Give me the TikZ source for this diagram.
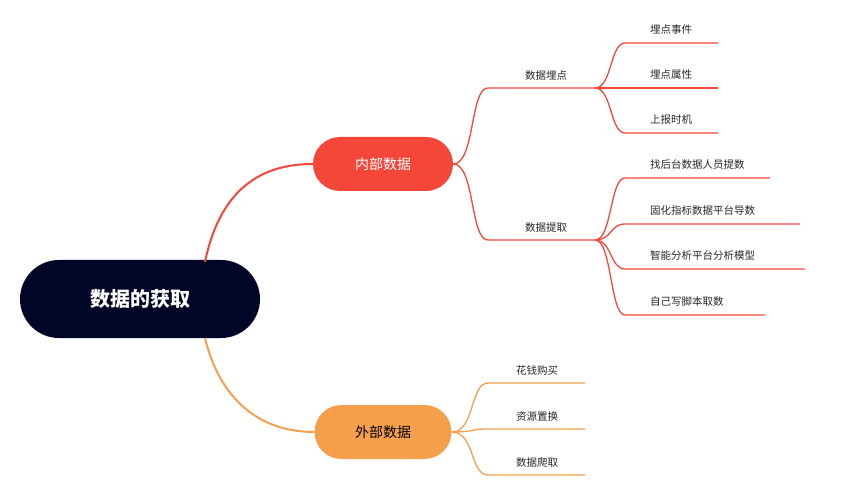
\documentclass[tikz,border=0pt]{standalone}
\usepackage{fontspec}
\setmainfont{Noto Sans CJK SC}
\begin{document}
\begin{tikzpicture}[x=1pt,y=-1pt,
  red/.style={draw=mred,line width=1.3pt},
  org/.style={draw=morg,line width=1.3pt},
  lf/.style={font=\fontsize{10.5}{12}\selectfont,text=black!85,anchor=west,inner sep=0pt}]
\definecolor{mred}{HTML}{F5463A}\definecolor{morg}{HTML}{F6A04D}\definecolor{navy}{HTML}{020626}
\useasboundingbox (0,0) rectangle (849,497);
\node[fill=navy,rounded corners=39pt,minimum width=240pt,minimum height=78pt,text=white,font=\bfseries\fontsize{20}{24}\selectfont] (root) at (140,299) {数据的获取};
\node[fill=mred,rounded corners=27pt,minimum width=140pt,minimum height=54pt,text=white,font=\fontsize{14}{16}\selectfont] (in) at (383,164) {内部数据};
\node[fill=morg,rounded corners=27pt,minimum width=137pt,minimum height=54pt,text=black,font=\fontsize{14}{16}\selectfont] (out) at (383,432) {外部数据};
\coordinate (r1) at (205,262); \coordinate (r2) at (205,338);
\draw[red,line width=2pt] (r1) .. controls (220,190) and (260,164) .. (in.west);
\draw[org,line width=2pt] (r2) .. controls (220,400) and (260,432) .. (out.west);
% internal
\foreach \n/\y/\t in {a/88/数据埋点,b/240/数据提取}{
  \coordinate (\n0) at (488,\y); \coordinate (\n1) at (595,\y);
  \draw[red] (in.east) .. controls (475,164) and (470,\y) .. (\n0) -- (\n1);
  \node[lf,anchor=south] (\n t) at (546,\y-7) {\t};}
\foreach \i/\y/\e/\t in {1/43/718/埋点事件,2/88/718/埋点属性,3/133/718/上报时机}{
  \coordinate (p\i) at (625,\y); \coordinate (q\i) at (\e,\y);
  \draw[red] (a1) .. controls (612,88) and (610,\y) .. (p\i) -- (q\i);
  \node[lf,anchor=south west] (at\i) at (650,\y-8) {\t};}
\foreach \i/\y/\e/\t in {1/178/770/找后台数据人员提数,2/224/800/固化指标数据平台导数,3/269/805/智能分析平台分析模型,4/315/765/自己写脚本取数}{
  \coordinate (s\i) at (625,\y); \coordinate (u\i) at (\e,\y);
  \draw[red] (b1) .. controls (612,240) and (610,\y) .. (s\i) -- (u\i);
  \node[lf,anchor=south west] (bt\i) at (650,\y-8) {\t};}
% external
\foreach \i/\y/\t in {1/383/花钱购买,2/429/资源置换,3/475/数据爬取}{
  \coordinate (x\i) at (488,\y); \coordinate (y\i) at (585,\y);
  \draw[org] (out.east) .. controls (475,432) and (470,\y) .. (x\i) -- (y\i);
  \node[lf,anchor=south west] (ot\i) at (516,\y-7) {\t};}
\end{tikzpicture}
\end{document}
